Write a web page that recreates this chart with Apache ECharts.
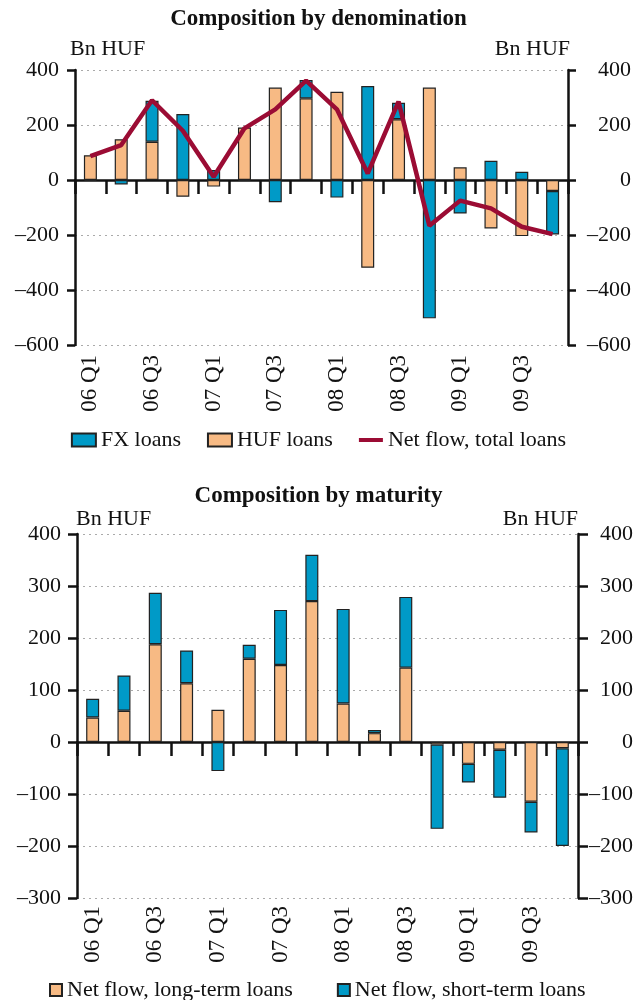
<!DOCTYPE html>
<html>
<head>
<meta charset="utf-8">
<script src="https://cdn.jsdelivr.net/npm/echarts@6/dist/echarts.min.js"></script>
<style>
  html, body { margin: 0; padding: 0; background: #fff; }
  #chart { width: 637px; height: 1000px; }
</style>
</head>
<body>
<div id="chart"></div>
<script>
  // quarters on the x axis
  const quarters = ['06 Q1', '06 Q2', '06 Q3', '06 Q4', '07 Q1', '07 Q2', '07 Q3', '07 Q4',
                    '08 Q1', '08 Q2', '08 Q3', '08 Q4', '09 Q1', '09 Q2', '09 Q3', '09 Q4'];

  // top panel: by denomination (Bn HUF)
  const fxLoans  = [-3, -16, 149, 240, 36, -3, -81, 67, -64, 342, 60, -503, -122, 70, 30, -158];
  const hufLoans = [90, 148, 139, -61, -24, 191, 336, 297, 321, -319, 221, 336, 46, -176, -204, -40];
  const netTotal = [87, 127, 290, 179, 12, 188, 257, 361, 257, 24, 285, -166, -75, -103, -170, -197];

  // bottom panel: by maturity (Bn HUF)
  const longTerm  = [47, 60, 188, 113, 62, 160, 148, 271, 74, 17, 143, -5, -42, -15, -115, -12];
  const shortTerm = [36, 68, 99, 63, -56, 27, 106, 89, 182, 6, 136, -162, -36, -92, -59, -188];

  const FONT = '"Liberation Serif", "DejaVu Serif", serif';
  const INK = '#111';
  const BLUE = '#009ac7';
  const ORANGE = '#f7ba84';
  const RED = '#9b0c34';

  const fmt = v => (v < 0 ? '\u2013' + Math.abs(v) : String(v));

  const labelStyle = { fontFamily: FONT, fontSize: 22, color: INK };

  // y axis builder
  const yAx = (grid, side, min, max, step, margin, tickLen) => ({
    type: 'value',
    gridIndex: grid,
    position: side,
    min: min,
    max: max,
    interval: step,
    axisLine: { show: true, onZero: false, lineStyle: { color: INK, width: 2.5 } },
    axisTick: { show: true, length: tickLen, lineStyle: { color: INK, width: 2.5 } },
    axisLabel: Object.assign({ margin: margin, formatter: fmt, align: 'right' }, labelStyle),
    splitLine: {
      show: side === 'left',
      lineStyle: { color: '#aaa', type: [2, 4], width: 1 }
    }
  });

  // bottom axis: only the rotated quarter labels
  const xLabels = (grid, margin) => ({
    type: 'category',
    gridIndex: grid,
    data: quarters,
    position: 'bottom',
    axisLine: { show: false, onZero: false },
    axisTick: { show: false },
    axisLabel: Object.assign({ interval: 1, rotate: 90, margin: margin }, labelStyle, { fontSize: 23 })
  });

  // the zero line with ticks between quarters
  const xZero = (grid, tickLen) => ({
    type: 'category',
    gridIndex: grid,
    data: quarters,
    position: 'top',
    axisLine: { show: true, onZero: true, lineStyle: { color: INK, width: 2.5 } },
    axisTick: { show: true, inside: true, interval: 0, length: tickLen, lineStyle: { color: INK, width: 2.5 } },
    axisLabel: { show: false }
  });

  const bar = (name, data, color, xi, yi) => ({
    name: name,
    type: 'bar',
    stack: 'g' + xi,
    xAxisIndex: xi,
    yAxisIndex: yi,
    barWidth: 13,
    data: data,
    itemStyle: { color: color, borderColor: '#222', borderWidth: 1.2 }
  });

  const chart = echarts.init(document.getElementById('chart'), null, { renderer: 'canvas' });

  const option = {
    animation: false,
    backgroundColor: '#fff',
    title: [
      {
        text: 'Composition by denomination', left: 'center', top: 8, padding: 0,
        textStyle: { fontFamily: FONT, fontSize: 23, fontWeight: 'bold', color: INK }
      },
      {
        text: 'Composition by maturity', left: 'center', top: 485, padding: 0,
        textStyle: { fontFamily: FONT, fontSize: 23, fontWeight: 'bold', color: INK }
      }
    ],
    graphic: [
      { type: 'text', x: 70, y: 49, style: { text: 'Bn HUF', font: '22px ' + FONT, fill: INK, align: 'left', verticalAlign: 'middle' } },
      { type: 'text', x: 570, y: 49, style: { text: 'Bn HUF', font: '22px ' + FONT, fill: INK, align: 'right', verticalAlign: 'middle' } },
      { type: 'text', x: 76, y: 519, style: { text: 'Bn HUF', font: '22px ' + FONT, fill: INK, align: 'left', verticalAlign: 'middle' } },
      { type: 'text', x: 578, y: 519, style: { text: 'Bn HUF', font: '22px ' + FONT, fill: INK, align: 'right', verticalAlign: 'middle' } }
    ],
    legend: [
      {
        data: [
          { name: 'FX loans', icon: 'rect' },
          { name: 'HUF loans', icon: 'rect' },
          { name: 'Net flow, total loans', icon: 'path://M0,0 L24,0 L24,4 L0,4 Z', itemStyle: { borderWidth: 0 } }
        ],
        left: 'center', top: 429, padding: 0,
        itemWidth: 24, itemHeight: 13, itemGap: 26,
        textStyle: labelStyle
      },
      {
        data: [
          { name: 'Net flow, long-term loans', icon: 'rect' },
          { name: 'Net flow, short-term loans', icon: 'rect' }
        ],
        left: 49, top: 979, padding: 0,
        itemWidth: 12, itemHeight: 12, itemGap: 44,
        textStyle: labelStyle
      }
    ],
    grid: [
      { left: 75, right: 69, top: 70, height: 275, containLabel: false, outerBoundsMode: 'none' },
      { left: 77, right: 59, top: 534, height: 364, containLabel: false, outerBoundsMode: 'none' }
    ],
    xAxis: [
      xLabels(0, 10),
      xZero(0, 14),
      xLabels(1, 8),
      xZero(1, 14)
    ],
    yAxis: [
      yAx(0, 'left', -600, 400, 200, 16, 8),
      yAx(0, 'right', -600, 400, 200, 63, 8),
      yAx(1, 'left', -300, 400, 100, 16, 9),
      yAx(1, 'right', -300, 400, 100, 55, 10)
    ],
    series: [
      bar('HUF loans', hufLoans, ORANGE, 0, 0),
      bar('FX loans', fxLoans, BLUE, 0, 0),
      {
        name: 'Net flow, total loans',
        type: 'line',
        xAxisIndex: 0,
        yAxisIndex: 0,
        data: netTotal,
        symbol: 'none',
        z: 5,
        lineStyle: { color: RED, width: 4.5 },
        itemStyle: { color: RED }
      },
      bar('Net flow, long-term loans', longTerm, ORANGE, 2, 2),
      bar('Net flow, short-term loans', shortTerm, BLUE, 2, 2)
    ]
  };

  option && chart.setOption(option);
</script>
</body>
</html>
